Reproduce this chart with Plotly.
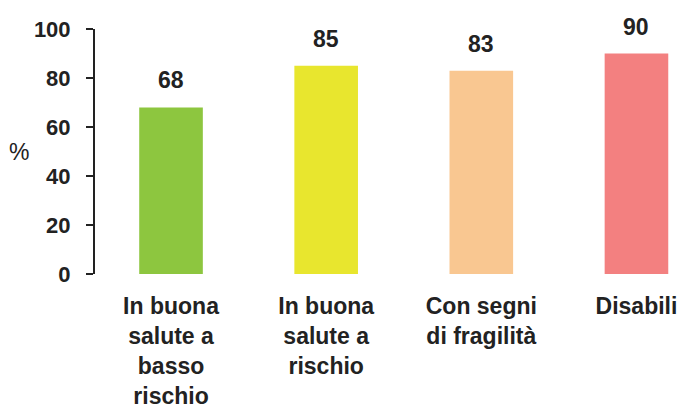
import plotly.graph_objects as go

# Categories, values and bar colours
categories = [
    "In buona<br>salute a<br>basso<br>rischio",
    "In buona<br>salute a<br>rischio",
    "Con segni<br>di fragilità",
    "Disabili",
]
values = [68, 85, 83, 90]
colors = ["#8DC63F", "#E8E62E", "#F9C791", "#F38080"]
y_ticks = [0, 20, 40, 60, 80, 100]

font_family = "Liberation Sans, Arial, sans-serif"
ink = "#222222"

xs = list(range(len(categories)))

fig = go.Figure(
    go.Bar(
        x=xs,
        y=values,
        marker=dict(color=colors, line=dict(width=0)),
        width=0.41,
    )
)

# Value labels above each bar
for xi, v in zip(xs, values):
    fig.add_annotation(
        x=xi,
        y=v,
        xref="x",
        yref="y",
        text=f"<b>{v}</b>",
        showarrow=False,
        xanchor="center",
        yanchor="bottom",
        yshift=12,
        font=dict(family=font_family, size=23, color=ink),
    )

fig.update_layout(
    width=683,
    height=404,
    margin=dict(l=95, r=0, t=29, b=130),
    paper_bgcolor="white",
    plot_bgcolor="white",
    showlegend=False,
    font=dict(family=font_family, color=ink),
)

fig.update_xaxes(
    range=[-0.49, 3.3],
    tickmode="array",
    tickvals=xs,
    ticktext=[f"<b>{c}</b>" for c in categories],
    tickfont=dict(family=font_family, size=23, color=ink),
    showline=False,
    showgrid=False,
    zeroline=False,
    ticks="",
    ticklabelstandoff=16,
    automargin=False,
)

fig.update_yaxes(
    range=[0, 100],
    tickmode="array",
    tickvals=y_ticks,
    ticktext=[f"<b>{t}</b>" for t in y_ticks],
    tickfont=dict(family=font_family, size=22, color=ink),
    showline=True,
    linecolor=ink,
    linewidth=2,
    ticks="outside",
    ticklen=7,
    tickwidth=2,
    tickcolor=ink,
    showgrid=False,
    zeroline=False,
    ticklabelstandoff=11,
    automargin=False,
)

# Unit label beside the value axis
fig.add_annotation(
    text="%",
    xref="paper",
    yref="y",
    x=0,
    y=50,
    xshift=-76,
    xanchor="center",
    yanchor="middle",
    showarrow=False,
    font=dict(family=font_family, size=23, color=ink),
)

fig.write_html("out.html")
